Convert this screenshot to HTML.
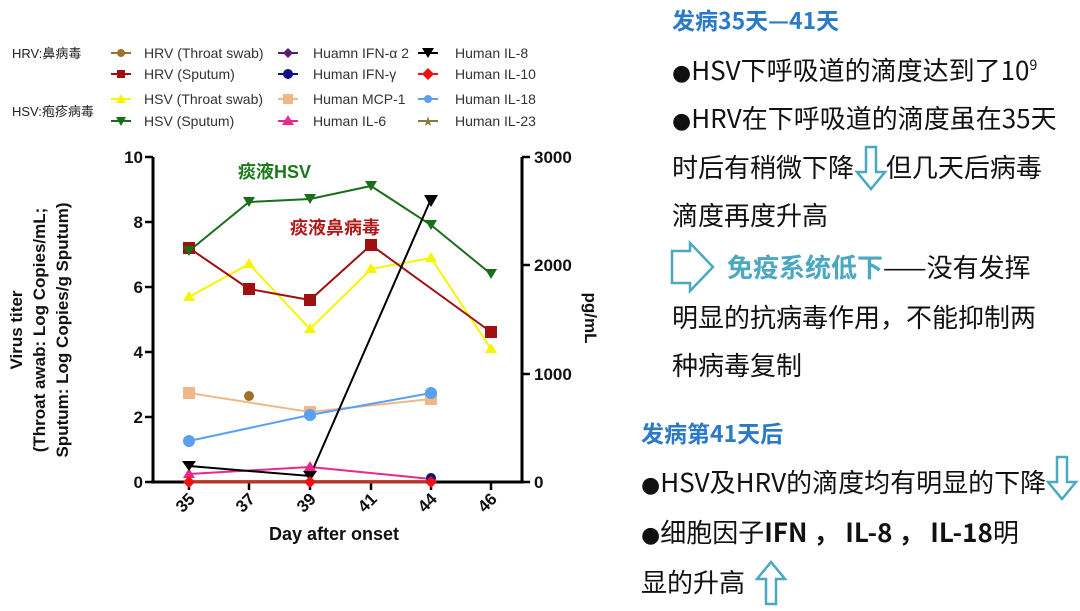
<!DOCTYPE html>
<html><head><meta charset="utf-8"><style>
html,body{margin:0;padding:0;background:#fff;}
svg{display:block;}
.cj{font-family:"Liberation Sans","Noto Sans CJK SC",sans-serif;}
.rt{font-family:"Noto Sans CJK SC","WenQuanYi Zen Hei",sans-serif;}
.b{font-family:"DejaVu Sans",sans-serif;font-size:22px;}
</style></head><body>
<svg width="1080" height="611" viewBox="0 0 1080 611" xmlns="http://www.w3.org/2000/svg" class="cj">
<text x="12" y="58" font-size="13" fill="#222">HRV:鼻病毒</text>
<text x="12" y="116" font-size="13" fill="#222">HSV:疱疹病毒</text>
<g font-size="14" fill="#333">
<line x1="111" y1="53" x2="131" y2="53" stroke="#a0702a" stroke-width="2"/><circle cx="121" cy="53" r="4" fill="#a0702a"/>
<text x="144" y="58">HRV (Throat swab)</text>
<line x1="111" y1="74" x2="131" y2="74" stroke="#a01010" stroke-width="2"/><rect x="117" y="70" width="8" height="8" fill="#a01010"/>
<text x="144" y="79">HRV (Sputum)</text>
<line x1="111" y1="99" x2="131" y2="99" stroke="#f5f500" stroke-width="2"/><path d="M121,94 L126,103 L116,103Z" fill="#f5f500"/>
<text x="144" y="104">HSV (Throat swab)</text>
<line x1="111" y1="121" x2="131" y2="121" stroke="#1a6e1a" stroke-width="2"/><path d="M116,117 L126,117 L121,126Z" fill="#1a6e1a"/>
<text x="144" y="126">HSV (Sputum)</text>
<line x1="278" y1="53" x2="298" y2="53" stroke="#5a1a6e" stroke-width="2"/><path d="M288,48 L293,53 L288,58 L283,53Z" fill="#5a1a6e"/>
<text x="313" y="58">Huamn IFN-α 2</text>
<line x1="278" y1="74" x2="298" y2="74" stroke="#101080" stroke-width="2"/><circle cx="288" cy="74" r="5" fill="#101080"/>
<text x="313" y="79">Human IFN-γ</text>
<line x1="278" y1="99" x2="298" y2="99" stroke="#f0b888" stroke-width="2"/><rect x="283" y="94" width="10" height="10" fill="#f0b888"/>
<text x="313" y="104">Human MCP-1</text>
<line x1="278" y1="121" x2="298" y2="121" stroke="#e8288a" stroke-width="2"/><path d="M288,115 L294,125 L282,125Z" fill="#e8288a"/>
<text x="313" y="126">Human IL-6</text>
<line x1="418" y1="53" x2="438" y2="53" stroke="#000" stroke-width="2"/><path d="M422,48 L434,48 L428,58Z" fill="#000"/>
<text x="455" y="58">Human IL-8</text>
<line x1="418" y1="74" x2="438" y2="74" stroke="#f01010" stroke-width="2"/><path d="M428,68 L434,74 L428,80 L422,74Z" fill="#f01010"/>
<text x="455" y="79">Human IL-10</text>
<line x1="418" y1="99" x2="438" y2="99" stroke="#5aa0f0" stroke-width="2"/><circle cx="428" cy="99" r="4" fill="#5aa0f0"/>
<text x="455" y="104">Human IL-18</text>
<line x1="418" y1="121" x2="438" y2="121" stroke="#8a7a40" stroke-width="2"/><text x="428" y="125" font-size="11" fill="#8a7a40" text-anchor="middle">★</text>
<text x="455" y="126">Human IL-23</text>
</g>
<g stroke="#000" stroke-width="3" fill="none">
<line x1="153" y1="157" x2="153" y2="483"/>
<line x1="522" y1="157" x2="522" y2="483"/>
<line x1="151" y1="482" x2="524" y2="482"/>
</g>
<g stroke="#000" stroke-width="2.5">
<line x1="145" y1="157" x2="153" y2="157"/><line x1="145" y1="222" x2="153" y2="222"/><line x1="145" y1="287" x2="153" y2="287"/><line x1="145" y1="352" x2="153" y2="352"/><line x1="145" y1="417" x2="153" y2="417"/><line x1="145" y1="482" x2="153" y2="482"/>
<line x1="522" y1="157" x2="530" y2="157"/><line x1="522" y1="265" x2="530" y2="265"/><line x1="522" y1="374" x2="530" y2="374"/><line x1="522" y1="482" x2="530" y2="482"/>
<line x1="189" y1="482" x2="189" y2="490"/><line x1="249" y1="482" x2="249" y2="490"/><line x1="310" y1="482" x2="310" y2="490"/><line x1="371" y1="482" x2="371" y2="490"/><line x1="431" y1="482" x2="431" y2="490"/><line x1="491" y1="482" x2="491" y2="490"/>
</g>
<g font-size="17" font-weight="bold" fill="#111" text-anchor="end">
<text x="143" y="163">10</text><text x="143" y="228">8</text><text x="143" y="293">6</text><text x="143" y="358">4</text><text x="143" y="423">2</text><text x="143" y="488">0</text>
</g>
<g font-size="17" font-weight="bold" fill="#111">
<text x="534" y="163">3000</text><text x="534" y="271">2000</text><text x="534" y="380">1000</text><text x="534" y="488">0</text>
</g>
<g font-size="17" font-weight="bold" fill="#111" text-anchor="end">
<text transform="translate(196,500) rotate(-45)">35</text>
<text transform="translate(256,500) rotate(-45)">37</text>
<text transform="translate(317,500) rotate(-45)">39</text>
<text transform="translate(378,500) rotate(-45)">41</text>
<text transform="translate(438,500) rotate(-45)">44</text>
<text transform="translate(498,500) rotate(-45)">46</text>
</g>
<text x="334" y="540" font-size="18" font-weight="bold" text-anchor="middle" fill="#111">Day after onset</text>
<g font-size="17" font-weight="bold" fill="#111" text-anchor="middle">
<text transform="translate(22,330) rotate(-90)">Virus titer</text>
<text transform="translate(45,330) rotate(-90)">(Throat awab: Log Copies/mL;</text>
<text transform="translate(68,330) rotate(-90)">Sputum: Log Copies/g Sputum)</text>
<text transform="translate(585,318) rotate(90)">pg/mL</text>
</g>
<g fill="none" stroke-width="2">
<polyline stroke="#8a7a40" points="189,481 249,481 310,481 371,481 431,481"/>
<polyline stroke="#c03030" stroke-width="3" points="189,482 310,482 431,482"/>
<polyline stroke="#e8288a" points="189,474 310,467 431,479"/>
<polyline stroke="#f0b888" points="189,393 310,412 431,399"/>
<polyline stroke="#5aa0f0" points="189,441 310,415 431,393"/>
<polyline stroke="#f5f500" points="189,297 249,264 310,329 371,269 431,258 491,349"/>
<polyline stroke="#a01010" points="189,248 249,289 310,300 371,245 491,332"/>
<polyline stroke="#1a6e1a" points="189,251 249,202 310,199 371,186 431,225 491,274"/>
<polyline stroke="#000" points="189,466 310,476 431,199"/>
</g>
<circle cx="249" cy="396" r="5" fill="#a0702a"/>
<g fill="#f0b888"><rect x="183" y="387" width="12" height="12"/><rect x="304" y="406" width="12" height="12"/><rect x="425" y="393" width="12" height="12"/></g>
<g fill="#5aa0f0"><circle cx="189" cy="441" r="6"/><circle cx="310" cy="415" r="6"/><circle cx="431" cy="393" r="6"/></g>
<g fill="#f5f500"><path d="M189,291 L195,301 L183,301Z"/><path d="M249,258 L255,268 L243,268Z"/><path d="M310,323 L316,333 L304,333Z"/><path d="M371,263 L377,273 L365,273Z"/><path d="M431,252 L437,262 L425,262Z"/><path d="M491,343 L497,353 L485,353Z"/></g>
<g fill="#a01010"><rect x="183" y="242" width="12" height="12"/><rect x="243" y="283" width="12" height="12"/><rect x="304" y="294" width="12" height="12"/><rect x="365" y="239" width="12" height="12"/><rect x="485" y="326" width="12" height="12"/></g>
<g fill="#1a6e1a"><path d="M183,246 L195,246 L189,256Z"/><path d="M243,197 L255,197 L249,207Z"/><path d="M304,194 L316,194 L310,204Z"/><path d="M365,181 L377,181 L371,191Z"/><path d="M425,220 L437,220 L431,230Z"/><path d="M485,269 L497,269 L491,279Z"/></g>
<g fill="#e8288a"><path d="M189,468 L195,478 L183,478Z"/><path d="M310,461 L316,471 L304,471Z"/></g>
<circle cx="431" cy="478" r="5" fill="#101080"/>
<g fill="#000"><path d="M182,461 L196,461 L189,471Z"/><path d="M303,471 L317,471 L310,481Z"/><path d="M424,195 L438,195 L431,207Z"/></g>
<g fill="#f01010"><path d="M189,476 L195,482 L189,488 L183,482Z"/><path d="M310,476 L316,482 L310,488 L304,482Z"/><path d="M431,476 L437,482 L431,488 L425,482Z"/></g>
<text x="238" y="178" font-size="18" font-weight="bold" fill="#1a7a1a">痰液HSV</text>
<text x="290" y="234" font-size="18" font-weight="bold" fill="#b01818">痰液鼻病毒</text>
<g font-size="26" fill="#111" class="rt">
<text x="672" y="29" font-size="23" font-weight="bold" fill="#2a7ac8">发病35天—41天</text>
<text x="672" y="80"><tspan class="b">●</tspan>HSV下呼吸道的滴度达到了10<tspan font-size="14" dy="-10">9</tspan></text>
<text x="672" y="128"><tspan class="b">●</tspan>HRV在下呼吸道的滴度虽在35天</text>
<text x="672" y="177">时后有稍微下降　 但几天后病毒</text>
<text x="672" y="225">滴度再度升高</text>
<text x="727" y="277" font-weight="bold" fill="#4aa8c0">免疫系统低下<tspan fill="#111" font-weight="normal">——没有发挥</tspan></text>
<text x="672" y="327">明显的抗病毒作用，不能抑制两</text>
<text x="672" y="375">种病毒复制</text>
<text x="641" y="442" font-size="23" font-weight="bold" fill="#2a7ac8">发病第41天后</text>
<text x="641" y="492"><tspan class="b">●</tspan>HSV及HRV的滴度均有明显的下降</text>
<text x="641" y="542"><tspan class="b">●</tspan>细胞因子<tspan font-weight="bold">IFN ， IL-8 ， IL-18</tspan>明</text>
<text x="641" y="592">显的升高</text>
</g>
<g fill="none" stroke="#4aa8c0" stroke-width="2.5">
<path d="M866,147 L876,147 L876,172 L885,172 L871,189 L857,172 L866,172Z"/>
<path d="M672,251 L690,251 L690,243 L713,267 L690,291 L690,283 L672,283Z"/>
<path d="M1057,457 L1067,457 L1067,482 L1076,482 L1062,499 L1048,482 L1057,482Z"/>
<path d="M766,604 L776,604 L776,579 L785,579 L771,562 L757,579 L766,579Z"/>
</g>
</svg>
</body></html>
